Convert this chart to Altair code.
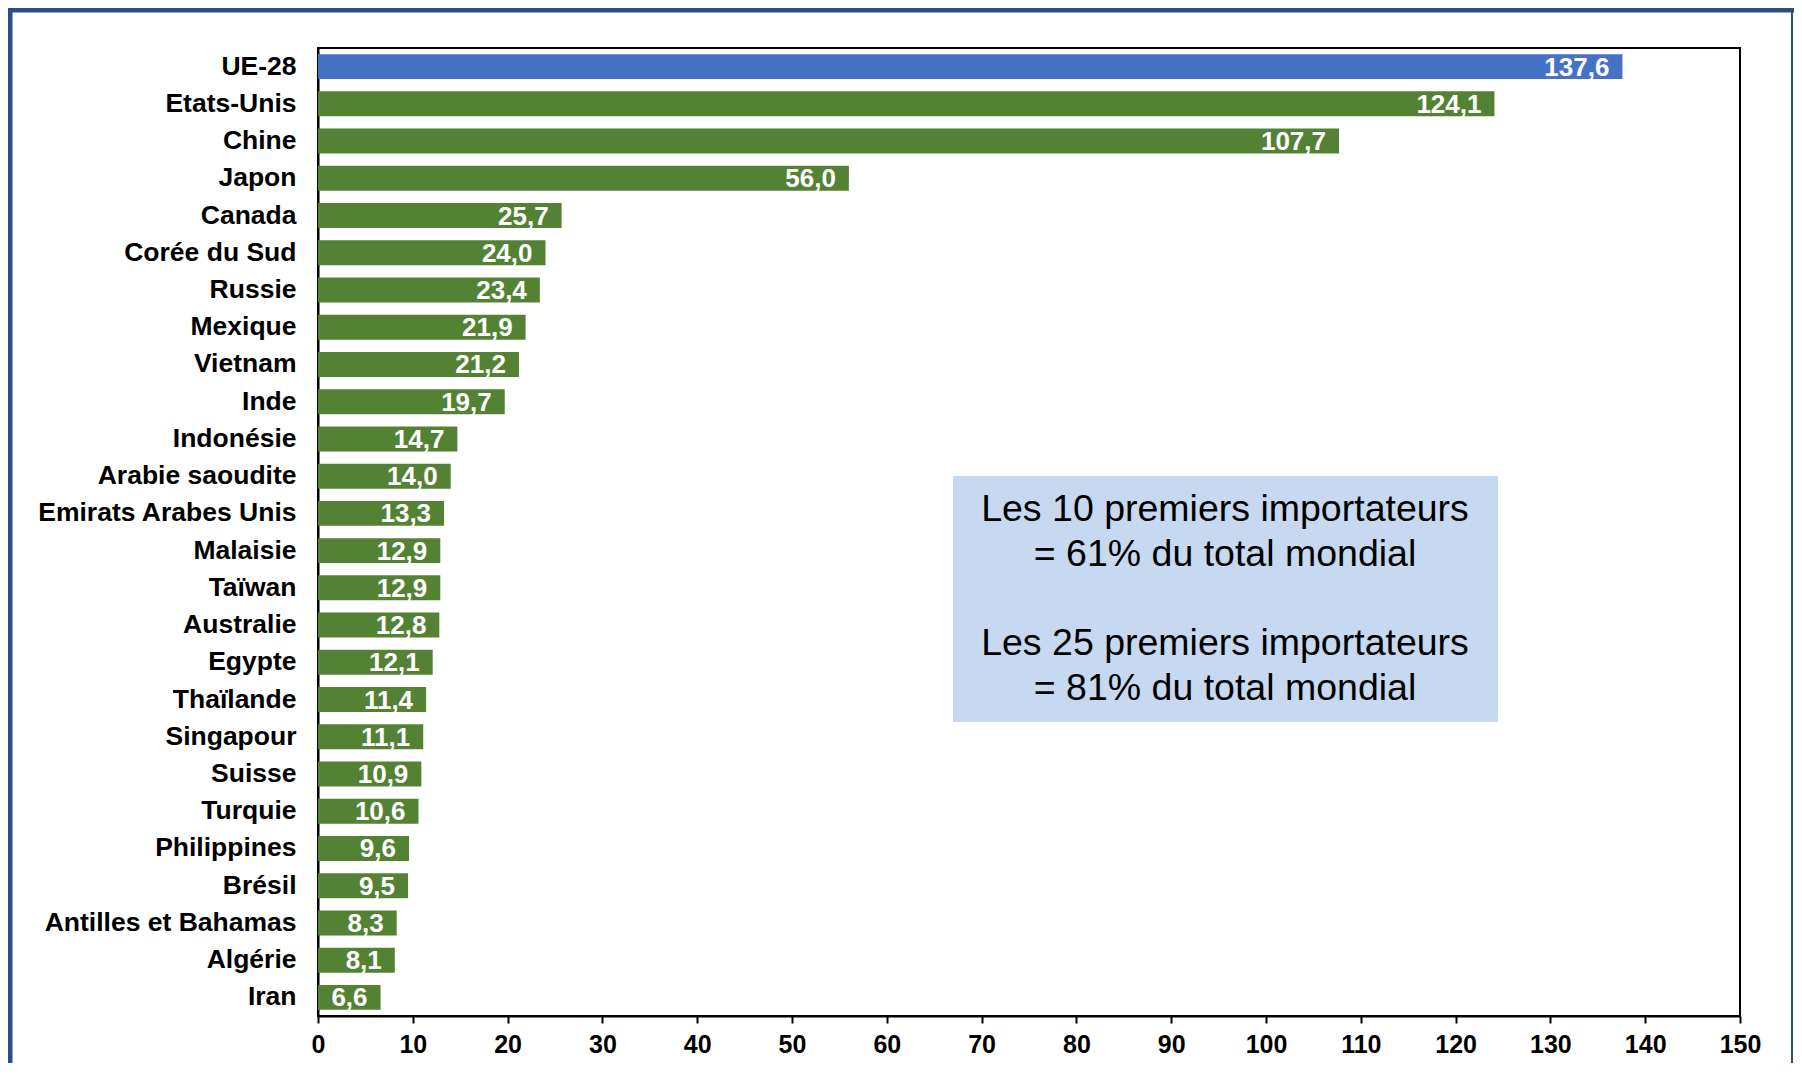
import altair as alt
import pandas as pd

countries = ["UE-28", "Etats-Unis", "Chine", "Japon", "Canada", "Corée du Sud", "Russie",
             "Mexique", "Vietnam", "Inde", "Indonésie", "Arabie saoudite",
             "Emirats Arabes Unis", "Malaisie", "Taïwan", "Australie", "Egypte",
             "Thaïlande", "Singapour", "Suisse", "Turquie", "Philippines", "Brésil",
             "Antilles et Bahamas", "Algérie", "Iran"]
values = [137.6, 124.1, 107.7, 56.0, 25.7, 24.0, 23.4, 21.9, 21.2, 19.7, 14.7, 14.0,
          13.3, 12.9, 12.9, 12.8, 12.1, 11.4, 11.1, 10.9, 10.6, 9.6, 9.5, 8.3, 8.1, 6.6]
groups = ["UE"] + ["Pays"] * (len(countries) - 1)
x_ticks = list(range(0, 151, 10))
note_top = ["Les 10 premiers importateurs", "= 61% du total mondial"]
note_bottom = ["Les 25 premiers importateurs", "= 81% du total mondial"]

df = pd.DataFrame({
    "pays": countries,
    "valeur": values,
    "groupe": groups,
    "label": [f"{v:.1f}".replace(".", ",") for v in values],
})

W, H = 1422, 968
FONT = "Liberation Sans"

y_enc = alt.Y("pays:N", sort=countries, title=None,
              scale=alt.Scale(paddingInner=0.33, paddingOuter=0.165),
              axis=alt.Axis(labelFont=FONT, labelFontSize=26.5, labelFontWeight="bold",
                            labelColor="black", ticks=False, labelPadding=22,
                            domainColor="black", domainWidth=2, labelLimit=400))
x_enc = alt.X("valeur:Q", title=None,
              scale=alt.Scale(domain=[0, 150], nice=False, zero=True),
              axis=alt.Axis(values=x_ticks, labelFont=FONT, labelFontSize=25,
                            labelFontWeight="bold", labelColor="black", grid=False,
                            tickSize=7, tickWidth=2, tickColor="black",
                            domainColor="black", domainWidth=2, labelPadding=9,
                            labelFlush=False))

bars = alt.Chart(df).mark_bar().encode(
    x=x_enc, y=y_enc,
    color=alt.Color("groupe:N", legend=None,
                    scale=alt.Scale(domain=["UE", "Pays"], range=["#4472C4", "#548235"])),
)

bar_labels = alt.Chart(df).mark_text(
    align="right", baseline="middle", dx=-13, dy=1, color="white",
    font=FONT, fontSize=26, fontWeight="bold"
).encode(x="valeur:Q", y=alt.Y("pays:N", sort=countries), text="label:N")

one = pd.DataFrame({"a": [0]})
note_box = alt.Chart(one).mark_rect(color="#C6D9F1").encode(
    x=alt.value(635), x2=alt.value(1180), y=alt.value(428), y2=alt.value(674))


def note(lines, y):
    d = pd.DataFrame({"note": ["\n".join(lines)]})
    return alt.Chart(d).mark_text(
        align="center", baseline="middle", font=FONT, fontSize=37.5, color="black",
        lineBreak="\n", lineHeight=44.8
    ).encode(x=alt.value(907), y=alt.value(y), text="note:N")


note_text1 = note(note_top, 462)
note_text2 = note(note_bottom, 596)

border_col = "#2B4F81"
border_left = alt.Chart(one).mark_rule(color=border_col, strokeWidth=5).encode(
    x=alt.value(-308), y=alt.value(-40), y2=alt.value(H + 60))
border_top = alt.Chart(one).mark_rule(color=border_col, strokeWidth=5).encode(
    x=alt.value(-310), x2=alt.value(1476), y=alt.value(-38))
border_right = alt.Chart(one).mark_rule(color=border_col, strokeWidth=2).encode(
    x=alt.value(1474), y=alt.value(-40), y2=alt.value(H + 60))

chart = alt.layer(
    note_box, bars, bar_labels, note_text1, note_text2,
    border_left, border_top, border_right
).properties(
    width=W, height=H,
    autosize=alt.AutoSizeParams(type="none"),
    padding={"left": 310, "top": 40, "right": 54, "bottom": 47},
    background="white",
).configure_view(stroke="black", strokeWidth=2)

chart.save("out.html", embed_options={"renderer": "svg", "actions": False})
